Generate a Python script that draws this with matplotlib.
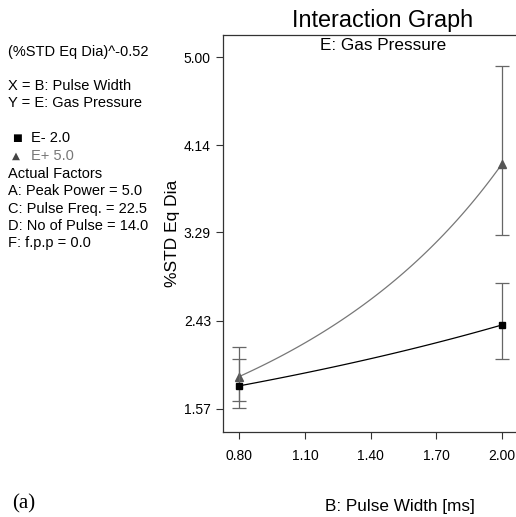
import numpy as np
import matplotlib.pyplot as plt

plt.rcParams['font.family'] = ['Liberation Sans', 'DejaVu Sans']

# pulse width levels (ms)
x_levels = [0.80, 2.00]
# E- 2.0 (black squares)
e_lo = [1.795, 2.388]
e_lo_upper = [2.059, 2.798]
e_lo_lower = [1.577, 2.056]
# E+ 5.0 (grey triangles)
e_hi = [1.886, 3.955]
e_hi_upper = [2.176, 4.912]
e_hi_lower = [1.651, 3.270]

yticks = [1.57, 2.43, 3.29, 4.14, 5.00]
xticks = [0.80, 1.10, 1.40, 1.70, 2.00]
power = -0.52

side_text = [
    ("(%STD Eq Dia)^-0.52", 52, 'black'),
    ("X = B: Pulse Width", 86, 'black'),
    ("Y = E: Gas Pressure", 103, 'black'),
    ("Actual Factors", 174, 'black'),
    ("A: Peak Power = 5.0", 191, 'black'),
    ("C: Pulse Freq. = 22.5", 209, 'black'),
    ("D: No of Pulse = 14.0", 226, 'black'),
    ("F: f.p.p = 0.0", 243, 'black'),
]


def model_curve(xs, ys):
    # the fit is linear in the transformed response, so back-transform
    t = np.array(ys) ** power
    xx = np.linspace(xs[0], xs[1], 60)
    tt = t[0] + (t[1] - t[0]) * (xx - xs[0]) / (xs[1] - xs[0])
    return xx, tt ** (1 / power)


W, H = 516, 517
fig = plt.figure(figsize=(W / 100, H / 100), dpi=100)
# axes runs past the right edge of the image (no right spine visible)
ax = fig.add_axes([222.7 / W, 1 - 432 / H, 1 - 222.7 / W + 0.05, (432 - 35) / H])

for ys, lo, hi, col, mcol, mk, ms in [
    (e_hi, e_hi_lower, e_hi_upper, '#777777', '#555555', '^', 5.5),
    (e_lo, e_lo_lower, e_lo_upper, 'black', 'black', 's', 5),
]:
    xx, yy = model_curve(x_levels, ys)
    ax.plot(xx, yy, color=col, lw=0.9)
    yerr = [np.array(ys) - np.array(lo), np.array(hi) - np.array(ys)]
    ax.errorbar(x_levels, ys, yerr=yerr, fmt='none', ecolor='#666666',
                elinewidth=0.9, capsize=4.7, capthick=0.9)
    ax.plot(x_levels, ys, linestyle='none', marker=mk, color=mcol, ms=ms)

ax.set_xlim(0.724, 2.183)
ax.set_ylim(1.345, 5.215)
ax.set_xticks(xticks)
ax.set_xticklabels([f"{v:.2f}" for v in xticks])
ax.set_yticks(yticks)
ax.set_yticklabels([f"{v:.2f}" for v in yticks])
ax.tick_params(labelsize=10, length=5, width=0.8, color='#333333')
ax.tick_params(axis='x', pad=7)
ax.spines['right'].set_visible(False)
for s in ['left', 'bottom', 'top']:
    ax.spines[s].set_linewidth(0.9)
    ax.spines[s].set_color('#333333')

ax.set_ylabel("%STD Eq Dia", fontsize=12.5, labelpad=3)

fig.text(383 / W, 1 - 21 / H, "Interaction Graph", fontsize=16.8,
         ha='center', va='center')
fig.text(383 / W, 1 - 45 / H, "E: Gas Pressure", fontsize=12.3,
         ha='center', va='center')
fig.text(400 / W, 1 - 507 / H, "B: Pulse Width [ms]", fontsize=12.3,
         ha='center', va='center')
fig.text(12 / W, 1 - 504 / H, "(a)", fontsize=15, family='Liberation Serif',
         ha='left', va='center')

for txt, y, c in side_text:
    fig.text(8 / W, 1 - y / H, txt, fontsize=10.5, color=c, ha='left', va='center')
fig.text(12 / W, 1 - 138 / H, "■", fontsize=7.5, color='black', ha='left', va='center',
         family='DejaVu Sans')
fig.text(31 / W, 1 - 138 / H, "E- 2.0", fontsize=10.5, ha='left', va='center')
fig.text(12 / W, 1 - 156 / H, "▲", fontsize=7.5, color='#444444', ha='left', va='center',
         family='DejaVu Sans')
fig.text(31 / W, 1 - 156 / H, "E+ 5.0", fontsize=10.5, color='#777777',
         ha='left', va='center')

fig.savefig("out.png", dpi=100)
